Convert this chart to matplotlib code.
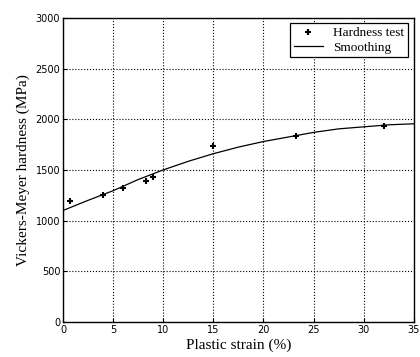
import matplotlib
matplotlib.use("Agg")
import matplotlib.pyplot as plt

test_strain = [0.7, 4.0, 6.0, 8.3, 9.0, 15.0, 23.3, 32.0]
test_hardness = [1195, 1255, 1325, 1395, 1430, 1735, 1835, 1930]

smooth_strain = [0, 2.5, 5, 7.5, 10, 12.5, 15, 17.5, 20, 22.5, 25, 27.5, 30, 32.5, 35]
smooth_hardness = [1100, 1200, 1295, 1405, 1500, 1585, 1660, 1725, 1780, 1825, 1870, 1905, 1925, 1945, 1955]

xticks = [0, 5, 10, 15, 20, 25, 30, 35]
yticks = [0, 500, 1000, 1500, 2000, 2500, 3000]

fig = plt.figure(figsize=(4.2, 3.57), dpi=100)
ax = fig.add_axes([0.15, 0.098, 0.835, 0.852])

ax.plot(test_strain, test_hardness, linestyle='none', marker='+', color='black',
        markersize=5, markeredgewidth=1.5, label='Hardness test')
ax.plot(smooth_strain, smooth_hardness, color='black', linewidth=0.9, label='Smoothing')

ax.set_xlim(0, 35)
ax.set_ylim(0, 3000)
ax.set_xticks(xticks)
ax.set_yticks(yticks)
ax.tick_params(labelsize=7, direction='in', length=3, width=0.8, pad=2)
ax.grid(True, linestyle=':', color='black', linewidth=0.8)
for s in ax.spines.values():
    s.set_linewidth(1.0)

ax.set_xlabel('Plastic strain (%)', family='Liberation Serif', fontsize=11, labelpad=3)
ax.set_ylabel('Vickers-Meyer hardness (MPa)', family='Liberation Serif', fontsize=11, labelpad=4)

leg = ax.legend(loc='upper right', prop={'family': 'Liberation Serif', 'size': 9.5},
                fancybox=False, edgecolor='black', framealpha=1, borderpad=0.3,
                handlelength=2.2, labelspacing=0.15, borderaxespad=0.4)
leg.get_frame().set_linewidth(0.9)

fig.savefig('out.png', dpi=100)
